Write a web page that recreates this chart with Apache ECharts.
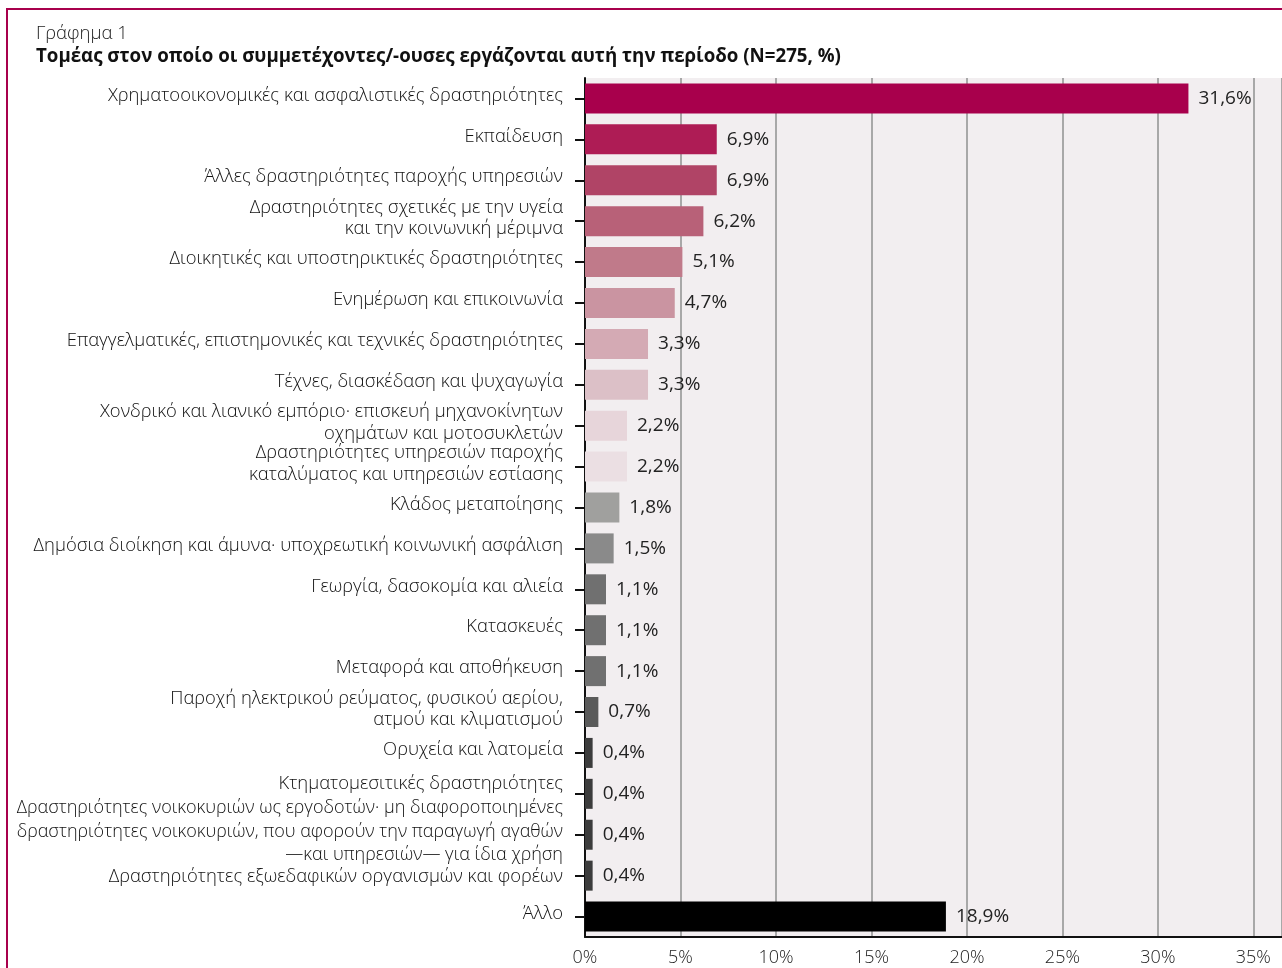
<!DOCTYPE html>
<html>
<head>
<meta charset="utf-8">
<script src="https://cdn.jsdelivr.net/npm/echarts@6/dist/echarts.min.js"></script>
<style>
html,body{margin:0;padding:0;width:1282px;height:968px;overflow:hidden;background:#fff;}
#frame{position:absolute;left:6px;top:8px;width:1400px;height:1100px;border:2px solid #a8004c;box-sizing:border-box;}
#chart{position:absolute;left:0;top:0;width:1282px;height:968px;}
</style>
</head>
<body>
<div id="frame"></div>
<div id="chart"></div>
<script>
const categories = [
  'Χρηματοοικονομικές και ασφαλιστικές δραστηριότητες',
  'Εκπαίδευση',
  'Άλλες δραστηριότητες παροχής υπηρεσιών',
  'Δραστηριότητες σχετικές με την υγεία\nκαι την κοινωνική μέριμνα',
  'Διοικητικές και υποστηρικτικές δραστηριότητες',
  'Ενημέρωση και επικοινωνία',
  'Επαγγελματικές, επιστημονικές και τεχνικές δραστηριότητες',
  'Τέχνες, διασκέδαση και ψυχαγωγία',
  'Χονδρικό και λιανικό εμπόριο· επισκευή μηχανοκίνητων\nοχημάτων και μοτοσυκλετών',
  'Δραστηριότητες υπηρεσιών παροχής\nκαταλύματος και υπηρεσιών εστίασης',
  'Κλάδος μεταποίησης',
  'Δημόσια διοίκηση και άμυνα· υποχρεωτική κοινωνική ασφάλιση',
  'Γεωργία, δασοκομία και αλιεία',
  'Κατασκευές',
  'Μεταφορά και αποθήκευση',
  'Παροχή ηλεκτρικού ρεύματος, φυσικού αερίου,\nατμού και κλιματισμού',
  'Ορυχεία και λατομεία',
  'Κτηματομεσιτικές δραστηριότητες',
  'Δραστηριότητες νοικοκυριών ως εργοδοτών· μη διαφοροποιημένες\nδραστηριότητες νοικοκυριών, που αφορούν την παραγωγή αγαθών\n—και υπηρεσιών— για ίδια χρήση',
  'Δραστηριότητες εξωεδαφικών οργανισμών και φορέων',
  'Άλλο'
];
const values = [31.6, 6.9, 6.9, 6.2, 5.1, 4.7, 3.3, 3.3, 2.2, 2.2, 1.8, 1.5, 1.1, 1.1, 1.1, 0.7, 0.4, 0.4, 0.4, 0.4, 18.9];
const barColors = ['#a8004c','#ae1c55','#b04466','#b86178','#c07a8a','#ca94a1','#d4aab4','#dcc0c7','#e7d5da','#ebdfe3',
  '#a0a09e','#8a8a8a','#707070','#707070','#707070','#5a5a5a','#3c3c3c','#3c3c3c','#3c3c3c','#3c3c3c','#000000'];
const xTicks = [0, 5, 10, 15, 20, 25, 30, 35];
const titleSmall = 'Γράφημα 1';
const titleMain = 'Τομέας στον οποίο οι συμμετέχοντες/-ουσες εργάζονται αυτή την περίοδο (N=275, %)';

const FONT = '"Open Sans", "Noto Sans", sans-serif';
const fmt = v => v.toFixed(1).replace('.', ',') + '%';

const catData = categories.map(c => {
  if (c.split('\n').length === 3) {
    return {value: c, textStyle: {fontSize: 18, lineHeight: 23}};
  }
  return c;
});
const baseLbl = {fontFamily: FONT, fontSize: 18.4, fontWeight: 300, color: '#111', lineHeight: 21.5};

const chart = echarts.init(document.getElementById('chart'), null, {renderer: 'canvas'});
chart.setOption({
  animation: false,
  textStyle: {fontFamily: FONT},
  title: [
    {text: titleSmall, left: 36, top: 24, padding: 0, textStyle: {fontFamily: FONT, fontSize: 18.5, fontWeight: 300, color: '#222'}},
    {text: titleMain, left: 36, top: 47, padding: 0, textStyle: {fontFamily: FONT, fontSize: 18.7, fontWeight: 'bold', color: '#111'}}
  ],
  grid: {left: 585, right: 0, top: 78, bottom: 31, containLabel: false, outerBoundsMode: 'none', show: true, backgroundColor: '#f2eef0', borderWidth: 0},
  xAxis: {
    type: 'value', min: 0, max: 36.5, interval: 5,
    axisLine: {show: true, lineStyle: {color: '#111', width: 2}},
    axisTick: {show: false},
    splitLine: {show: true, lineStyle: {color: '#a8a8a8', width: 2}},
    axisLabel: {
      fontFamily: FONT, fontSize: 18, fontWeight: 300, color: '#222', margin: 12,
      formatter: v => xTicks.indexOf(v) >= 0 ? v + '%' : ''
    }
  },
  yAxis: {
    type: 'category', inverse: true, data: catData,
    axisLine: {show: true, lineStyle: {color: '#111', width: 2}},
    axisTick: {show: true, alignWithLabel: true, length: 10, lineStyle: {color: '#111', width: 2}},
    axisLabel: Object.assign({}, baseLbl, {
      margin: 22, align: 'right', padding: [0, 0, 6, 0],
      formatter: (v, i) => {
        if (i === categories.length - 4) return '{up|' + v + '}';
        if (i === categories.length - 2) return '{dn|' + v + '}';
        if (i === categories.length - 3) return '{md|' + v.split('\n').join('}\n{md|') + '}';
        return v;
      },
      rich: {
        up: Object.assign({}, baseLbl, {padding: [0, 0, 14, 0]}),
        dn: Object.assign({}, baseLbl, {padding: [8, 0, 0, 0]}),
        md: Object.assign({}, baseLbl, {fontSize: 18, lineHeight: 23.5})
      }
    })
  },
  series: [{
    type: 'bar',
    data: values.map((v, i) => ({value: v, itemStyle: {color: barColors[i]}})),
    barWidth: 30,
    label: {show: true, position: 'right', distance: 10, fontFamily: FONT, fontSize: 19, fontWeight: 400, color: '#222', formatter: p => fmt(p.value)}
  }]
});
</script>
</body>
</html>
